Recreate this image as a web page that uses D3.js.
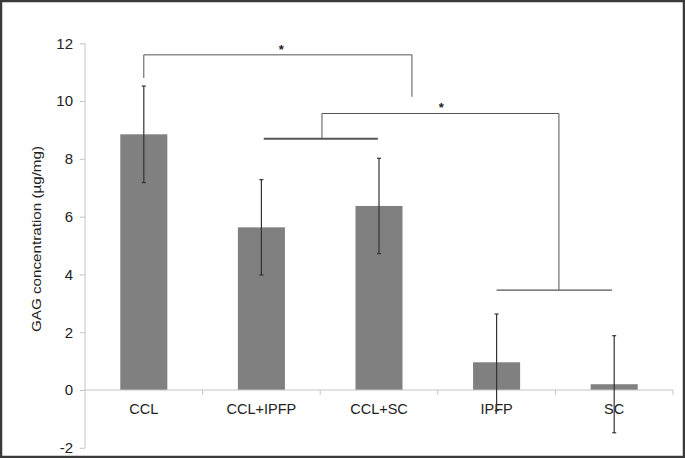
<!DOCTYPE html>
<html><head><meta charset="utf-8">
<script src="https://cdn.jsdelivr.net/npm/d3@7/dist/d3.min.js"></script>
<style>body{margin:0;background:#fff}svg{display:block;font-family:"Liberation Sans",Arial,sans-serif}</style>
</head><body>
<script>
const categories = ["CCL","CCL+IPFP","CCL+SC","IPFP","SC"];
const means = [8.85, 5.63, 6.37, 0.96, 0.2];
const errors = [1.67, 1.65, 1.65, 1.67, 1.68];
const yTicks = [-2,0,2,4,6,8,10,12];
// significance brackets: level in data units, x in category-index units
const bracketLines = [
  {x1:0, y1:10.8, x2:0, y2:11.6},
  {x1:0, y1:11.6, x2:2.28, y2:11.6},
  {x1:2.28, y1:11.6, x2:2.28, y2:10.15},
  {x1:1.515, y1:8.7, x2:1.515, y2:9.57},
  {x1:1.515, y1:9.57, x2:3.53, y2:9.57},
  {x1:3.53, y1:9.57, x2:3.53, y2:3.46},
  {x1:1.02, y1:8.7, x2:1.99, y2:8.7, w:2},
  {x1:3.0, y1:3.46, x2:3.98, y2:3.46, w:1.3}
];
const stars = [{x:1.17, y:11.95}, {x:2.53, y:9.95}];

const W=685, H=458;
const svg=d3.select("body").append("svg").attr("width",W).attr("height",H);
svg.append("rect").attr("x",1).attr("y",1).attr("width",W-2).attr("height",H-2)
  .attr("fill","#fff").attr("stroke","#3a3a3a").attr("stroke-width",2.5);

const x=d3.scaleBand().domain(categories).range([85,673]).paddingInner(0.6).paddingOuter(0.3);
const y=d3.scaleLinear().domain([-2,12]).range([447.8,43.3]);
const xi=d3.scaleLinear().domain([0,1]).range([x(categories[0])+x.bandwidth()/2, x(categories[1])+x.bandwidth()/2]);
const axisCol="#c4c4c4";
const font="'Liberation Sans',Arial,sans-serif";

// y axis
const ya=svg.append("g").attr("transform","translate(85,0)")
  .call(d3.axisLeft(y).tickValues(yTicks).tickSize(5).tickPadding(7).tickFormat(d=>String(d)));
ya.select(".domain").attr("stroke",axisCol).attr("d",`M0,${y(-2)}V${y(12)}`);
ya.selectAll(".tick line").attr("stroke",axisCol);
ya.selectAll(".tick text").attr("fill","#222").style("font-size","15px").style("font-family",font);

// bars
svg.append("g").selectAll("rect").data(categories).join("rect")
  .attr("x",d=>x(d)).attr("width",x.bandwidth())
  .attr("y",(d,i)=>y(Math.max(0,means[i]))).attr("height",(d,i)=>Math.abs(y(means[i])-y(0)))
  .attr("fill","#808080");

// x axis at zero
const xa=svg.append("g").attr("transform",`translate(0,${y(0)})`)
  .call(d3.axisBottom(x).tickSize(0).tickPadding(14));
xa.select(".domain").attr("stroke",axisCol).attr("d","M85,0H673");
xa.selectAll(".tick text").attr("fill","#222").style("font-size","14.5px").style("font-family",font);
const bounds=[...categories.map(c=>x(c)-x.step()*x.paddingInner()/2), 673].slice(1);
xa.selectAll(".bt").data(bounds).join("line").attr("x1",d=>d).attr("x2",d=>d).attr("y1",0).attr("y2",5).attr("stroke",axisCol);

// error bars
const eb=svg.append("g").attr("stroke","#333").attr("stroke-width",1.2);
categories.forEach((c,i)=>{
  const cx=x(c)+x.bandwidth()/2;
  eb.append("line").attr("x1",cx).attr("x2",cx).attr("y1",y(means[i]+errors[i])).attr("y2",y(means[i]-errors[i]));
  [means[i]+errors[i], means[i]-errors[i]].forEach(v=>{
    eb.append("line").attr("x1",cx-2).attr("x2",cx+2).attr("y1",y(v)).attr("y2",y(v));
  });
});

// brackets
svg.append("g").selectAll("line").data(bracketLines).join("line")
  .attr("x1",d=>xi(d.x1)).attr("x2",d=>xi(d.x2)).attr("y1",d=>y(d.y1)).attr("y2",d=>y(d.y2))
  .attr("stroke","#555").attr("stroke-width",d=>d.w||1);
svg.append("g").selectAll("text").data(stars).join("text")
  .attr("x",d=>xi(d.x)).attr("y",d=>y(d.y)).attr("dy","0.7em").attr("text-anchor","middle")
  .style("font-size","13px").style("font-weight","bold").attr("fill","#222").text("*");

// y label
svg.append("text").attr("transform",`translate(41,${239}) rotate(-90)`).attr("text-anchor","middle")
  .attr("textLength",186).attr("lengthAdjust","spacingAndGlyphs")
  .style("font-size","13.5px").attr("fill","#222").text("GAG concentration (µg/mg)");
</script>
</body></html>
